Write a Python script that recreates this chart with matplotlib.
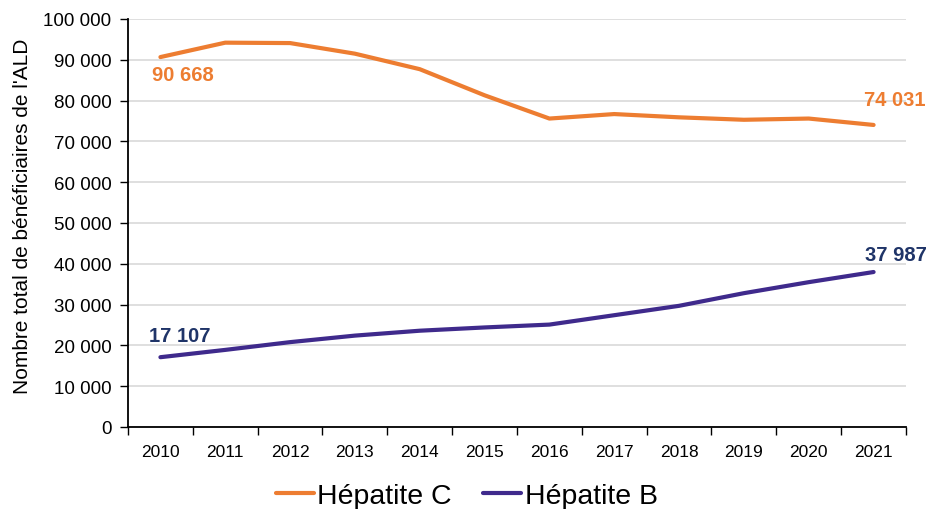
import matplotlib
matplotlib.use("Agg")
import matplotlib.pyplot as plt
from matplotlib.ticker import FuncFormatter, FixedLocator
import numpy as np

plt.rcParams['font.family'] = ['Liberation Sans', 'DejaVu Sans']

years = ['2010', '2011', '2012', '2013', '2014', '2015', '2016', '2017', '2018', '2019', '2020', '2021']
hep_c = [90668, 94200, 94100, 91500, 87700, 81300, 75600, 76700, 75900, 75300, 75600, 74031]
hep_b = [17107, 18900, 20800, 22400, 23600, 24400, 25100, 27400, 29700, 32800, 35500, 37987]

col_c = '#ED7D31'
col_b = '#3F2A8C'
lab_c = '#ED7D31'
lab_b = '#1F3468'

fig = plt.figure(figsize=(9.28, 5.10), dpi=100)
ax = fig.add_axes([128 / 928, 82 / 510, 778 / 928, 408 / 510])

x = np.arange(len(years))
ax.plot(x, hep_c, color=col_c, lw=3.0, solid_capstyle='round', solid_joinstyle='round',
        label='Hépatite C', zorder=3)
ax.plot(x, hep_b, color=col_b, lw=3.0, solid_capstyle='round', solid_joinstyle='round',
        label='Hépatite B', zorder=3)

ax.set_xlim(-0.5, len(years) - 0.5)
ax.set_ylim(0, 100000)
ax.set_yticks(np.arange(0, 100001, 10000))
ax.yaxis.set_major_formatter(FuncFormatter(lambda v, p: f"{int(v):,}".replace(',', ' ')))
ax.set_xticks(x)
ax.set_xticklabels(years)
ax.xaxis.set_minor_locator(FixedLocator(np.arange(-0.5, len(years), 1)))
ax.tick_params(axis='x', which='major', length=0, labelsize=12.5, pad=12)
ax.tick_params(axis='x', which='minor', length=6, width=1, direction='out')
ax.tick_params(axis='y', length=6, width=1, labelsize=13.5, pad=6)

ax.grid(axis='y', color='#D9D9D9', lw=1.2)
ax.set_axisbelow(True)
for s in ['top', 'right']:
    ax.spines[s].set_visible(False)
ax.spines['left'].set_linewidth(1.3)
ax.spines['bottom'].set_linewidth(1.3)

ax.set_ylabel("Nombre total de bénéficiaires de l'ALD", fontsize=15)
ax.yaxis.set_label_coords(-0.124, 0.52)

kw = dict(textcoords='offset pixels', ha='center', va='center', fontsize=14.5, fontweight='bold')
ax.annotate('90 668', (0, hep_c[0]), xytext=(22, -17), color=lab_c, **kw)
ax.annotate('74 031', (11, hep_c[-1]), xytext=(21, 25), color=lab_c, **kw)
ax.annotate('17 107', (0, hep_b[0]), xytext=(19, 22), color=lab_b, **kw)
ax.annotate('37 987', (11, hep_b[-1]), xytext=(22, 18), color=lab_b, **kw)

fig.legend(loc='lower center', bbox_to_anchor=(0.503, -0.05), ncol=2, frameon=False,
           fontsize=20.5, handlelength=1.33, handletextpad=0.12, columnspacing=1.1)

fig.savefig('out.png', dpi=100)
